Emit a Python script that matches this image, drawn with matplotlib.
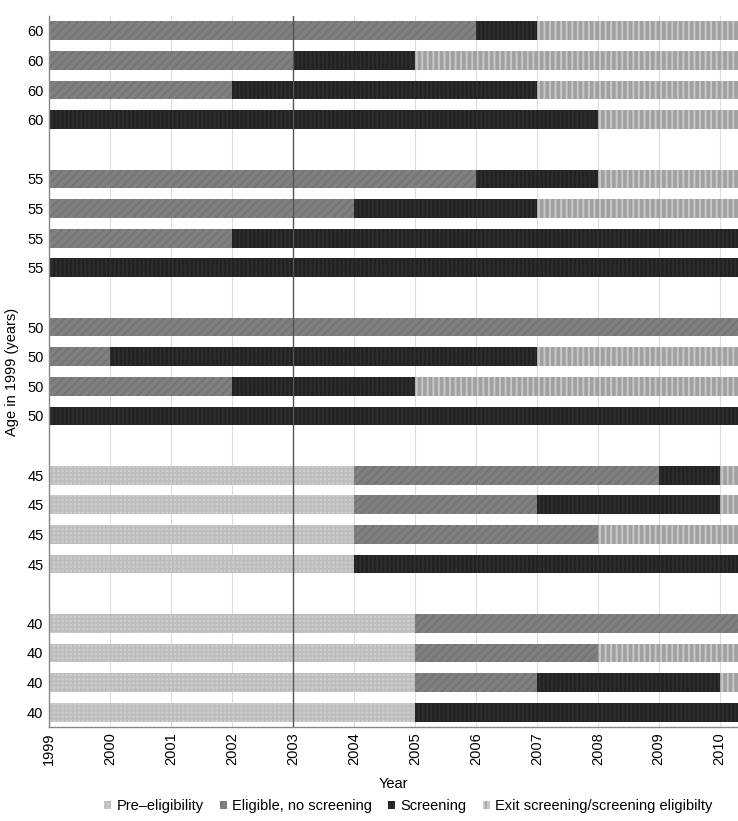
"""
Screening status timeline per simulated person, grouped by age in 1999.
"""

import matplotlib
matplotlib.use("Agg")
import matplotlib.pyplot as plt
from matplotlib.patches import Patch

plt.rcParams["font.family"] = ["Liberation Sans", "DejaVu Sans"]
plt.rcParams["hatch.linewidth"] = 1.2

# ---------------------------------------------------------------------------
# Data: each row = one person; year at which each state ends
# ---------------------------------------------------------------------------
END = 2010.3
ages = [60, 60, 60, 60, 55, 55, 55, 55, 50, 50, 50, 50,
        45, 45, 45, 45, 40, 40, 40, 40]
pre_end = [1999, 1999, 1999, 1999, 1999, 1999, 1999, 1999, 1999, 1999, 1999, 1999,
           2004, 2004, 2004, 2004, 2005, 2005, 2005, 2005]
elig_end = [2006, 2003, 2002, 1999, 2006, 2004, 2002, 1999, END, 2000, 2002, 1999,
            2009, 2007, 2008, 2004, END, 2008, 2007, 2005]
screen_end = [2007, 2005, 2007, 2008, 2008, 2007, END, END, END, 2007, 2005, END,
              2010, 2010, 2008, END, END, 2008, 2010, END]
years = list(range(1999, 2011))
states = ["Pre\u2013eligibility", "Eligible, no screening", "Screening",
          "Exit screening/screening eligibilty"]

# ---------------------------------------------------------------------------
# Styles
# ---------------------------------------------------------------------------
STYLE = {
    states[0]: dict(color="#cdcdcd", edgecolor="#bdbdbd", hatch="++++"),
    states[1]: dict(color="#808080", edgecolor="#747474", hatch="////"),
    states[2]: dict(color="#222222", edgecolor="#2e2e2e", hatch="||||"),
    states[3]: dict(color="#c8c8c8", edgecolor="#a0a0a0", hatch="|||"),
}
HATCH_LW = {states[0]: 1.2, states[1]: 1.2, states[2]: 1.2, states[3]: 2.6}
BAR_H = 0.63


def hatched(patch, st):
    # per-artist hatch width where supported, otherwise keep global value
    if hasattr(patch, "set_hatch_linewidth"):
        patch.set_hatch_linewidth(HATCH_LW[st])


fig = plt.figure(figsize=(7.38, 8.21), dpi=100)
ax = fig.add_axes([0.0664, 0.1145, 0.9336, 0.866])

ypos = [(i // 4) * 5 + i % 4 for i in range(len(ages))]

for y, p, e, s in zip(ypos, pre_end, elig_end, screen_end):
    bounds = [1999, p, e, s, END]
    for k, st in enumerate(states):
        left, right = bounds[k], bounds[k + 1]
        if right > left:
            with plt.rc_context({"hatch.linewidth": HATCH_LW[st]}):
                bars = ax.barh(y, right - left, left=left, height=BAR_H,
                               linewidth=0, zorder=2, **STYLE[st])
            for b in bars:
                hatched(b, st)

ax.axvline(2003, color="#555555", linewidth=1.0, zorder=5)

ax.set_xlim(1999, END)
ax.set_ylim(23.5, -0.5)
ax.set_xticks(years)
ax.set_xticklabels([str(y) for y in years], rotation=90, fontsize=10.5)
ax.set_yticks(ypos)
ax.set_yticklabels([str(a) for a in ages], fontsize=10.5)
ax.tick_params(axis="both", length=0, pad=4)
ax.xaxis.grid(True, color="#dddddd", linewidth=0.8, zorder=0)
ax.set_axisbelow(True)

for side in ("top", "right"):
    ax.spines[side].set_visible(False)
for side in ("left", "bottom"):
    ax.spines[side].set_color("#888888")
    ax.spines[side].set_linewidth(1.0)

ax.set_xlabel("Year", fontsize=10.5, labelpad=8)
ax.set_ylabel("Age in 1999 (years)", fontsize=10.5, labelpad=6)

handles = [Patch(facecolor=STYLE[s]["color"], edgecolor=STYLE[s]["edgecolor"],
                 hatch=STYLE[s]["hatch"], linewidth=0, label=s) for s in states]
fig.legend(handles=handles, loc="center", bbox_to_anchor=(0.553, 0.018),
           ncol=4, frameon=False, fontsize=10.5, handlelength=0.5,
           handleheight=0.5, handletextpad=0.35, columnspacing=1.1,
           borderpad=0)

fig.savefig("out.png", dpi=100)
plt.close(fig)
